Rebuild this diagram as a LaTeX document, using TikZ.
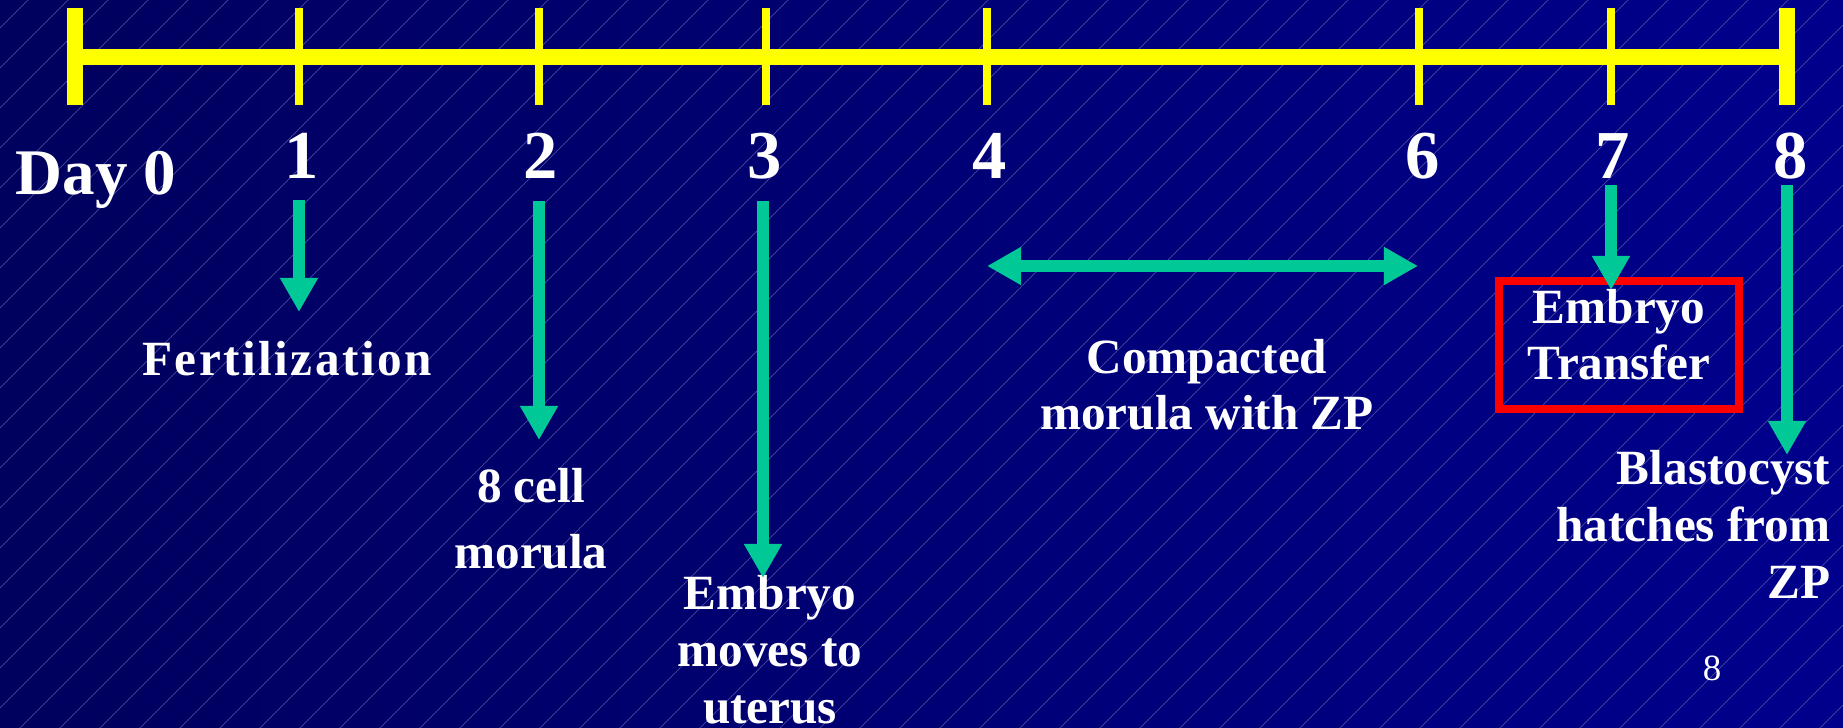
\documentclass[tikz,border=0pt]{standalone}
\usepackage{fontspec}
\setmainfont{Liberation Serif}
\usetikzlibrary{arrows.meta}
\definecolor{bgleft}{RGB}{0,0,94}
\definecolor{bgright}{RGB}{0,0,140}
\definecolor{hatchline}{RGB}{85,85,165}
\definecolor{tlyellow}{RGB}{255,255,0}
\definecolor{arrgreen}{RGB}{0,200,150}
\definecolor{boxred}{RGB}{255,0,0}

\begin{document}
\begin{tikzpicture}[x=0.01cm, y=-0.01cm,
  hatch/.style={draw=hatchline, line width=0.18pt},
  bar/.style={draw=tlyellow, line width=4.55pt},
  endtick/.style={draw=tlyellow, line width=4.55pt},
  daytick/.style={draw=tlyellow, line width=2.28pt},
  daynum/.style={text=white, font=\fontsize{19.5}{22}\selectfont\bfseries, anchor=base, inner sep=0pt},
  lbl/.style={text=white, font=\fontsize{14}{16.2}\selectfont\bfseries, align=center, anchor=base, inner sep=0pt},
  grn/.style={draw=arrgreen, line width=3.4pt, -{Triangle[width=10.2pt, length=9.7pt]}},
  grnboth/.style={draw=arrgreen, line width=3.4pt, {Triangle[width=10.2pt, length=9.7pt]}-{Triangle[width=10.2pt, length=9.7pt]}}]

  \shade[left color=bgleft, right color=bgright] (0,0) rectangle (1843,728);
  \useasboundingbox (0,0) rectangle (1843,728);
  \begin{scope}
    \clip (0,0) rectangle (1843,728);
    \foreach \i in {-740,-700,...,1860}
      \draw[hatch] (\i,728) -- ++(728,-728);
  \end{scope}

  \draw[bar] (67,57) -- (1795,57);
  \draw[endtick] (75,8) -- (75,105);
  \draw[endtick] (1787,8) -- (1787,105);
  \foreach \x in {299,539,766,987,1419,1611}
    \draw[daytick] (\x,8) -- (\x,105);

  \node[daynum, font=\fontsize{18.5}{22}\selectfont\bfseries, anchor=base west] (d0) at (15,195) {Day 0};
  \foreach \n/\x in {1/302,2/541,3/765,4/990,6/1423,7/1613,8/1791}
    \node[daynum] (d\n) at (\x,179) {\n};

  \coordinate (s1) at (299,200);
  \coordinate (e1) at (299,312);
  \coordinate (s2) at (539,201);
  \coordinate (e2) at (539,440);
  \coordinate (s3) at (763,201);
  \coordinate (e3) at (763,578);
  \coordinate (s4) at (987,266);
  \coordinate (e6) at (1418,266);
  \coordinate (s7) at (1611,185);
  \coordinate (e7) at (1611,290);
  \coordinate (s8) at (1787,185);
  \coordinate (e8) at (1787,455);

  \node[lbl, font=\fontsize{14}{16.2}\selectfont\bfseries\addfontfeature{LetterSpace=5}] (fert) at (287,376) {Fertilization};
  \node[lbl] (cell) at (531,568) {8 cell\\[2.3pt]morula};
  \node[lbl] (move) at (770,723) {Embryo\\moves to\\uterus};
  \node[lbl] (comp) at (1207,430) {Compacted\\morula with ZP};
  \node[lbl] (tran) at (1619,380) {Embryo\\Transfer};
  \node[draw=boxred, line width=2.28pt, minimum width=2.4cm, minimum height=1.28cm] (tbox) at (1619,345) {};
  \node[lbl, align=right, anchor=base east] (hatc) at (1831,598) {Blastocyst\\hatches from\\ZP};
  \node[text=white, font=\fontsize{10.5}{12}\selectfont, anchor=base, inner sep=0pt] (pg) at (1712,680) {8};

  \draw[grn] (s1) -- (e1);
  \draw[grn] (s2) -- (e2);
  \draw[grn] (s3) -- (e3);
  \draw[grnboth] (s4) -- (e6);
  \draw[grn] (s7) -- (e7);
  \draw[grn] (s8) -- (e8);
\end{tikzpicture}
\end{document}
